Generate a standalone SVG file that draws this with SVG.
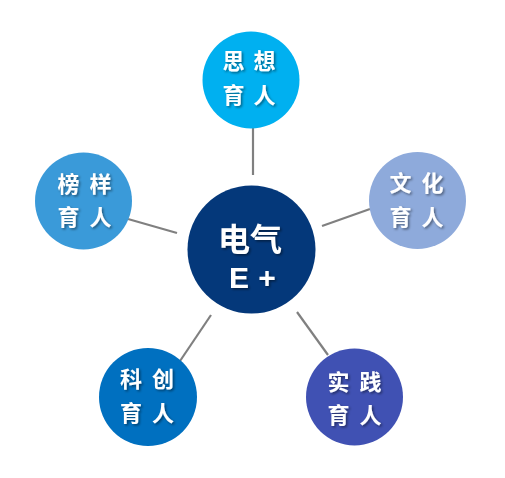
<svg xmlns="http://www.w3.org/2000/svg" width="505" height="478" viewBox="0 0 505 478">
<style>
.lbl{font-family:"Noto Sans CJK SC","Noto Sans",sans-serif;font-weight:700;font-size:22px;fill:#ffffff;text-anchor:middle;filter:url(#sh)}
.ctr{font-family:"Noto Sans CJK SC","Liberation Sans",sans-serif;font-weight:700;fill:#ffffff;text-anchor:middle;filter:url(#sh)}
.lat{font-family:"Liberation Sans",Arial,sans-serif;font-weight:700;fill:#ffffff;text-anchor:middle;filter:url(#sh)}
.conn line{stroke:#808080;stroke-width:2.2}
</style>
<defs>
<filter id="sh" x="-20%" y="-20%" width="150%" height="150%">
<feDropShadow dx="1.5" dy="1.5" stdDeviation="0.8" flood-color="#000000" flood-opacity="0.45"/>
</filter>
</defs>
<rect width="505" height="478" fill="#ffffff"/>
<g id="connectors" class="conn">
<line x1="253" y1="128" x2="253" y2="175"/>
<line x1="128" y1="219" x2="177" y2="233"/>
<line x1="322" y1="226" x2="370" y2="209"/>
<line x1="211" y1="315" x2="180" y2="361"/>
<line x1="297" y1="312" x2="328" y2="355"/>
</g>
<g id="center">
<circle cx="251.5" cy="249.5" r="64" fill="#04387a"/>
<text class="ctr" x="234 266" y="251" font-size="32">电气</text>
<text class="lat" x="239 267" y="288" font-size="30">E+</text>
</g>
<g id="sixiang">
<circle cx="251" cy="80" r="48.5" fill="#00b0f0"/>
<text class="lbl" x="233.5 264.5" y="69">思想</text>
<text class="lbl" x="233.5 264.5" y="103">育人</text>
</g>
<g id="bangyang">
<circle cx="83.5" cy="201" r="48.5" fill="#3a9ad9"/>
<text class="lbl" x="68.5 100.5" y="192">榜样</text>
<text class="lbl" x="68.5 100.5" y="225">育人</text>
</g>
<g id="wenhua">
<circle cx="417.5" cy="200.5" r="48.5" fill="#8eaadb"/>
<text class="lbl" x="400.5 432.5" y="191">文化</text>
<text class="lbl" x="400.5 432.5" y="225">育人</text>
</g>
<g id="kechuang">
<circle cx="148" cy="397" r="49" fill="#0070c0"/>
<text class="lbl" x="131 163" y="387">科创</text>
<text class="lbl" x="131 163" y="421">育人</text>
</g>
<g id="shijian">
<circle cx="354.5" cy="397" r="48.5" fill="#4051b3"/>
<text class="lbl" x="338.5 370.5" y="390">实践</text>
<text class="lbl" x="338.5 370.5" y="423">育人</text>
</g>
</svg>
